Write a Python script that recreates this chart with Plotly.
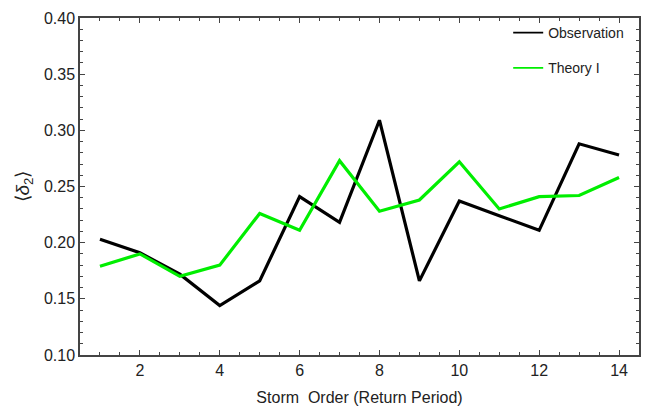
import plotly.graph_objects as go

# Storm order (return period) on the x axis
storm_order = list(range(1, 15))

# Mean second moment <delta_2> per storm order
observation = [0.203, 0.191, 0.172, 0.144, 0.166, 0.241, 0.218,
               0.309, 0.166, 0.237, 0.224, 0.211, 0.288, 0.278]
theory_1 = [0.179, 0.190, 0.170, 0.180, 0.226, 0.211, 0.273,
            0.228, 0.238, 0.272, 0.230, 0.241, 0.242, 0.258]

x_ticks = [2, 4, 6, 8, 10, 12, 14]
y_ticks = [0.10, 0.15, 0.20, 0.25, 0.30, 0.35, 0.40]

series = [("Observation", observation, "black", "obs"),
          ("Theory I", theory_1, "#00ee00", "th1")]

fig = go.Figure()
for name, values, color, group in series:
    # thick curve in the plot area
    fig.add_trace(go.Scatter(x=storm_order, y=values, mode="lines",
                             name=name, legendgroup=group, showlegend=False,
                             line=dict(color=color, width=3.2)))
    # thin key line for the legend
    fig.add_trace(go.Scatter(x=[None], y=[None], mode="lines",
                             name=name, legendgroup=group,
                             line=dict(color=color, width=1.8)))

frame = "#444444"
tick_font = dict(family="Liberation Sans, Arial, sans-serif", size=16, color="#222222")

fig.update_layout(
    width=668, height=417,
    margin=dict(l=80, r=29, t=10, b=62),
    paper_bgcolor="white", plot_bgcolor="white",
    font=dict(family="Liberation Sans, Arial, sans-serif", color="#222222"),
    legend=dict(x=0.766, y=1.003, xanchor="left", yanchor="top",
                bgcolor="rgba(0,0,0,0)", font=dict(size=14),
                itemwidth=30, tracegroupgap=14, traceorder="grouped"),
    xaxis=dict(range=[0.5, 14.5], tickvals=x_ticks, showgrid=False,
               zeroline=False, showline=True, mirror="allticks",
               linecolor=frame, linewidth=1.5, ticks="inside", ticklen=5,
               tickcolor=frame, tickfont=tick_font,
               minor=dict(dtick=0.5, ticks="inside", ticklen=3, tickcolor=frame),
               title=dict(text="Storm  Order (Return Period)",
                          font=dict(size=16), standoff=14)),
    yaxis=dict(range=[0.10, 0.40], tickvals=y_ticks, tickformat=".2f",
               showgrid=False, zeroline=False, showline=True, mirror="allticks",
               linecolor=frame, linewidth=1.5, ticks="inside", ticklen=5,
               tickcolor=frame, tickfont=tick_font,
               minor=dict(dtick=0.01, ticks="inside", ticklen=3, tickcolor=frame),
               title=dict(text="⟨<i>δ</i><sub>2</sub>⟩", font=dict(size=19), standoff=9)),
)

fig.write_html("out.html")
